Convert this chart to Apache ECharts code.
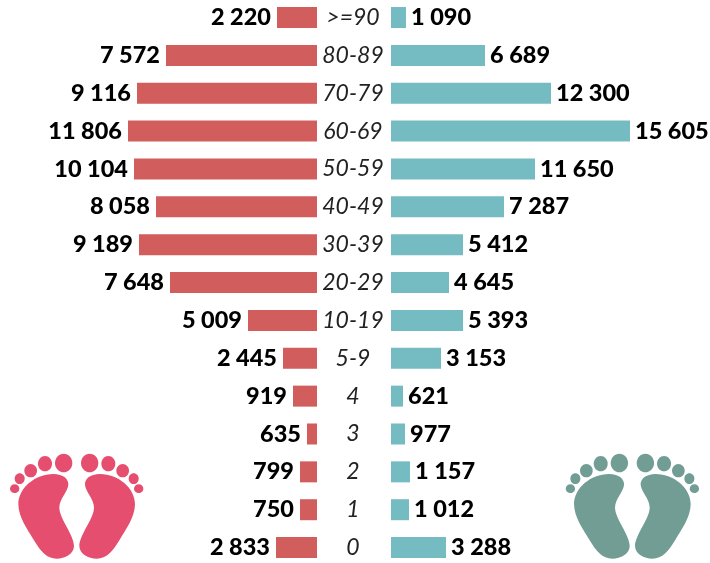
<!DOCTYPE html>
<html>

<head>
    <meta charset="utf-8">
    <title>ECharts</title>
    <script src="https://cdn.jsdelivr.net/npm/echarts@6/dist/echarts.min.js"></script>
    <style>
        html, body { margin: 0; padding: 0; background: #fff; }
        #main { width: 710px; height: 563px; }
    </style>
</head>

<body>
    <div id="main"></div>
</body>
<script type="text/javascript">
    var ageGroups = ['>=90', '80-89', '70-79', '60-69', '50-59', '40-49', '30-39', '20-29', '10-19', '5-9', '4', '3', '2', '1', '0'];
    // printed numbers
    var leftValues = [2220, 7572, 9116, 11806, 10104, 8058, 9189, 7648, 5009, 2445, 919, 635, 799, 750, 2833];
    var rightValues = [1090, 6689, 12300, 15605, 11650, 7287, 5412, 4645, 5393, 3153, 621, 977, 1157, 1012, 3288];
    // the bars in the picture are not to scale with the printed numbers, so their lengths are read separately
    var leftBars = [40, 151, 180, 189, 183, 161, 178, 147, 69, 34, 24, 10, 17, 17, 41];
    var rightBars = [15, 94, 160, 239, 144, 113, 72, 58, 72, 50, 12, 14, 19, 18, 55];

    var labelFont = { fontFamily: 'Lato', fontWeight: 900, fontSize: 23.5, color: '#000' };

    function spaced(n) {
        return String(n).replace(/\B(?=(\d{3})+$)/g, ' ');
    }

    // graphic has no plain path type, so the sole is registered as a shape
    var solePath = 'M160 102C190 102 207 118 205 135C203 155 178 178 178 203C178 235 222 285 222 318C222 342 195 356 170 356C140 356 122 335 100 298C85 272 55 232 55 192C55 145 105 102 160 102Z';
    echarts.graphic.registerShape('footSole', echarts.graphic.extendPath(solePath, {}));
    var toes = [[191, 69, 26, 28], [135, 71, 21, 23], [92, 92, 19, 20], [59, 116, 15, 16], [44, 146, 14, 13]];

    function foot(color) {
        var parts = [{ type: 'footSole', style: { fill: color } }];
        toes.forEach(function(t) {
            parts.push({ type: 'ellipse', shape: { cx: t[0], cy: t[1], rx: t[2], ry: t[3] }, style: { fill: color } });
        });
        return parts;
    }

    // one pair of feet, drawn in a 3x box and scaled down
    function feet(x, y, color) {
        return {
            type: 'group',
            x: x,
            y: y,
            scaleX: 1 / 3,
            scaleY: 1 / 3,
            silent: true,
            children: [
                { type: 'group', children: foot(color) },
                { type: 'group', x: 460, scaleX: -1, children: foot(color) }
            ]
        };
    }

    var chart = echarts.init(document.getElementById('main'), null, { renderer: 'canvas' });
    chart.setOption({
        backgroundColor: '#fff',
        animation: false,
        graphic: [feet(0, 440, '#e64e6f'), feet(555.7, 440, '#719d94')],
        grid: [
            { left: 0, width: 317, top: -1.4, height: 567.9, outerBoundsMode: 'none' },
            { left: 391, width: 319, top: -1.4, height: 567.9, outerBoundsMode: 'none' }
        ],
        xAxis: [
            { gridIndex: 0, type: 'value', min: 0, max: 317, inverse: true, show: false },
            { gridIndex: 1, type: 'value', min: 0, max: 319, show: false }
        ],
        yAxis: [{
            gridIndex: 0,
            type: 'category',
            data: ageGroups,
            inverse: true,
            position: 'right',
            axisLine: { show: false },
            axisTick: { show: false },
            axisLabel: {
                interval: 0,
                margin: 36,
                align: 'center',
                fontFamily: 'Lato',
                fontStyle: 'italic',
                fontWeight: 400,
                fontSize: 23,
                color: '#222'
            }
        }, {
            gridIndex: 1,
            type: 'category',
            data: ageGroups,
            inverse: true,
            show: false
        }],
        series: [{
            type: 'bar',
            xAxisIndex: 0,
            yAxisIndex: 0,
            data: leftBars,
            barWidth: 21,
            itemStyle: { color: '#d25d5d' },
            label: Object.assign({
                show: true,
                position: 'left',
                distance: 6,
                formatter: function(p) { return spaced(leftValues[p.dataIndex]); }
            }, labelFont)
        }, {
            type: 'bar',
            xAxisIndex: 1,
            yAxisIndex: 1,
            data: rightBars,
            barWidth: 21,
            itemStyle: { color: '#74bbc2' },
            label: Object.assign({
                show: true,
                position: 'right',
                distance: 5,
                formatter: function(p) { return spaced(rightValues[p.dataIndex]); }
            }, labelFont)
        }]
    });
</script>

</html>
